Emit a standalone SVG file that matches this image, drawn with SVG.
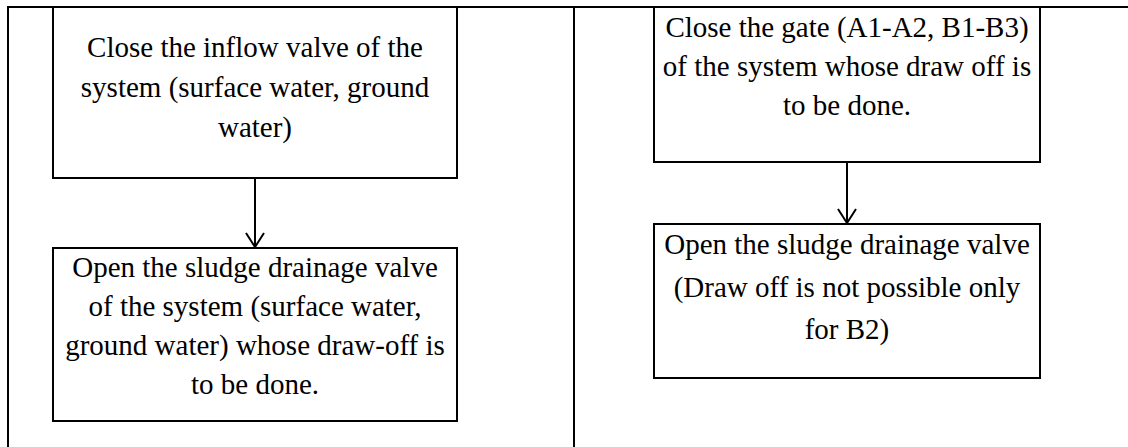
<svg xmlns="http://www.w3.org/2000/svg" width="1128" height="447" viewBox="0 0 1128 447">
  <style>
    .frame { stroke: #000; stroke-width: 2; fill: none; }
    .box { fill: #fff; stroke: #000; stroke-width: 2; }
    .lbl { font-family: "Liberation Serif", "Times New Roman", serif; font-size: 29px; fill: #000; text-anchor: middle; }
    .conn { stroke: #000; stroke-width: 2; fill: none; }
  </style>
  <defs>
    <!-- open V arrowhead, tip at the line end, pointing along the line -->
    <marker id="vhead" viewBox="0 0 16 20" refX="15" refY="10" markerWidth="16" markerHeight="20" markerUnits="userSpaceOnUse" orient="auto">
      <path d="M1,1 L15,10 L1,19" fill="none" stroke="#000" stroke-width="2"/>
    </marker>
  </defs>
  <rect width="1128" height="447" fill="#fff"/>

  <!-- table rules -->
  <g id="table">
    <line class="frame" x1="8" y1="7" x2="1128" y2="7" stroke-width="3"/>
    <line class="frame" x1="8" y1="6" x2="8" y2="447"/>
    <line class="frame" x1="574" y1="6" x2="574" y2="447"/>
  </g>

  <g id="left-close">
    <rect class="box" x="53" y="7" width="404" height="171"/>
    <text class="lbl" x="255" y="57">Close the inflow valve of the</text>
    <text class="lbl" x="255" y="97">system (surface water, ground</text>
    <text class="lbl" x="255" y="137">water)</text>
  </g>

  <g id="left-open">
    <rect class="box" x="53" y="248" width="404" height="173"/>
    <text class="lbl" x="255" y="277">Open the sludge drainage valve</text>
    <text class="lbl" x="255" y="316">of the system (surface water,</text>
    <text class="lbl" x="255" y="355">ground water) whose draw-off is</text>
    <text class="lbl" x="255" y="394">to be done.</text>
  </g>

  <g id="right-close">
    <rect class="box" x="654" y="7" width="386" height="155"/>
    <text class="lbl" x="847" y="37">Close the gate (A1-A2, B1-B3)</text>
    <text class="lbl" x="847" y="76">of the system whose draw off is</text>
    <text class="lbl" x="847" y="115">to be done.</text>
  </g>

  <g id="right-open">
    <rect class="box" x="654" y="224" width="386" height="154"/>
    <text class="lbl" x="847" y="254">Open the sludge drainage valve</text>
    <text class="lbl" x="847" y="297">(Draw off is not possible only</text>
    <text class="lbl" x="847" y="339">for B2)</text>
  </g>

  <g id="connectors">
    <line class="conn" x1="255" y1="178" x2="255" y2="247" marker-end="url(#vhead)"/>
    <line class="conn" x1="847" y1="162" x2="847" y2="223" marker-end="url(#vhead)"/>
  </g>
</svg>
